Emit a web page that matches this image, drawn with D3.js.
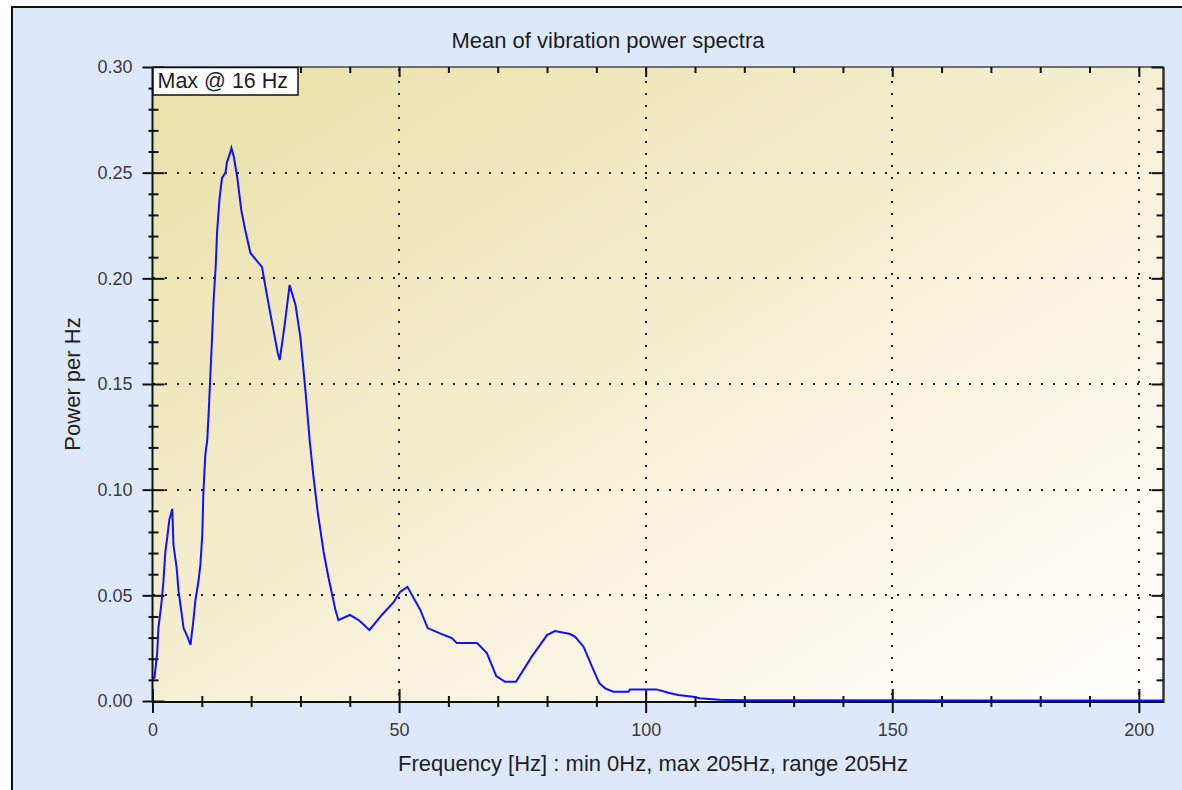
<!DOCTYPE html>
<html>
<head>
<meta charset="utf-8">
<script src="https://cdn.jsdelivr.net/npm/d3@7"></script>
<style>
  body { margin: 0; background: #fff; }
  text { font-family: "Liberation Sans", Arial, sans-serif; }
</style>
</head>
<body>
<script>
// spectrum
var freq = [0, 0.4, 0.95, 1.2, 1.8, 2.2, 2.6, 3.0, 3.4, 4.0, 4.25, 4.9, 5.3, 5.9, 6.3, 7.1, 7.7,
  8.3, 8.7, 9.3, 9.7, 10.1, 10.3, 10.7, 11.1, 11.4, 11.75, 12.1, 12.4, 12.8, 13.1, 13.6, 14.1,
  14.8, 15.1, 15.7, 16.0, 16.5, 17.2, 18.0, 18.8, 19.85, 21.5, 22.2, 23.2, 24.4, 25.4, 25.8,
  26.8, 27.8, 29.0, 30.0, 31.0, 31.9, 32.6, 33.5, 34.7, 35.7, 37.1, 37.7, 40.0, 41.8, 44.0,
  46.5, 48.9, 50.2, 51.7, 54.3, 55.8, 58.3, 60.7, 61.7, 65.8, 67.8, 69.7, 71.5, 73.7, 76.9,
  80.0, 81.6, 84.7, 85.7, 87.4, 89.4, 90.6, 91.8, 93.4, 96.5, 96.8, 102.2, 104.6, 106.6,
  109.6, 111, 115, 120, 140, 170, 205];
var power = [0.011, 0.011, 0.0227, 0.0345, 0.046, 0.056, 0.0705, 0.0776, 0.0856, 0.0909, 0.0738,
  0.063, 0.0516, 0.0416, 0.0345, 0.0303, 0.0265, 0.0383, 0.0478, 0.0563, 0.0643, 0.0786, 0.0975,
  0.1164, 0.1235, 0.1368, 0.155, 0.173, 0.19, 0.205, 0.222, 0.238, 0.2475, 0.250, 0.255, 0.259,
  0.2617, 0.2574, 0.2475, 0.2323, 0.2229, 0.212, 0.2073, 0.2054, 0.1921, 0.177, 0.1647, 0.1614,
  0.178, 0.1968, 0.1874, 0.1718, 0.1472, 0.1226, 0.107, 0.0894, 0.0705, 0.0582, 0.0431, 0.0383,
  0.0407, 0.0383, 0.0336, 0.0407, 0.0468, 0.0516, 0.054, 0.0431, 0.0345, 0.032, 0.0298, 0.0274,
  0.0274, 0.0227, 0.0118, 0.0091, 0.0091, 0.021, 0.0312, 0.0331, 0.0317, 0.0304, 0.0257, 0.0147,
  0.0084, 0.006, 0.0044, 0.0044, 0.0055, 0.0055, 0.0039, 0.0028, 0.002, 0.0013, 0.0006, 0.0003,
  0.0003, 0.0002, 0.0002];

var xTicks = [0, 50, 100, 150, 200];
var yTicks = [0, 0.05, 0.10, 0.15, 0.20, 0.25, 0.30];
var title = "Mean of vibration power spectra";
var xTitle = "Frequency [Hz] : min 0Hz, max 205Hz, range 205Hz";
var yTitle = "Power per Hz";
var maxLabel = "Max @ 16 Hz";

var plotLeft = 152.5, plotRight = 1163.5, plotTop = 67, plotBottom = 701;

var svg = d3.select("body").append("svg")
    .attr("width", 1182)
    .attr("height", 790);

var defs = svg.append("defs");
var grad = defs.append("linearGradient")
    .attr("id", "plotbg")
    .attr("x1", 0).attr("y1", 0).attr("x2", 1).attr("y2", 1);
grad.append("stop").attr("offset", "0%").attr("stop-color", "#e9e0a6");
grad.append("stop").attr("offset", "55%").attr("stop-color", "#f6f1d8");
grad.append("stop").attr("offset", "100%").attr("stop-color", "#ffffff");

// window frame
svg.append("rect")
    .attr("x", 12).attr("y", 7)
    .attr("width", 1200).attr("height", 800)
    .attr("fill", "#dde9fb")
    .attr("stroke", "#111")
    .attr("stroke-width", 2);

var x = d3.scaleLinear().domain([0, 205]).range([plotLeft, plotRight]);
var y = d3.scaleLinear().domain([0, 0.3]).range([plotBottom, plotTop]);

svg.append("rect")
    .attr("x", plotLeft).attr("y", plotTop)
    .attr("width", plotRight - plotLeft).attr("height", plotBottom - plotTop)
    .attr("fill", "url(#plotbg)");

// dotted grid
var grid = svg.append("g")
    .attr("stroke", "#222")
    .attr("stroke-width", 2)
    .attr("stroke-dasharray", "2,10");

grid.selectAll("line.v")
    .data(xTicks.slice(1))
    .enter().append("line")
    .attr("class", "v")
    .attr("x1", function(d) { return Math.round(x(d)); })
    .attr("x2", function(d) { return Math.round(x(d)); })
    .attr("y1", plotTop + 2).attr("y2", plotBottom);

grid.selectAll("line.h")
    .data(yTicks.slice(1, -1))
    .enter().append("line")
    .attr("class", "h")
    .attr("y1", function(d) { return Math.round(y(d)); })
    .attr("y2", function(d) { return Math.round(y(d)); })
    .attr("x1", plotLeft + 0.5).attr("x2", plotRight);

// frame of the plot
svg.append("line")
    .attr("x1", plotLeft).attr("x2", plotRight).attr("y1", plotTop).attr("y2", plotTop)
    .attr("stroke", "#444").attr("stroke-width", 1.5);
svg.append("line")
    .attr("x1", plotRight).attr("x2", plotRight).attr("y1", plotTop).attr("y2", plotBottom)
    .attr("stroke", "#333").attr("stroke-width", 2.5);

var xMinor = d3.range(0, 206, 10).filter(function(d) { return xTicks.indexOf(d) < 0; });
var yMinor = d3.range(1, 30).filter(function(d) { return d % 5 !== 0; })
    .map(function(d) { return d / 100; });

function tickGroup(axis, tx, ty) {
  var g = svg.append("g")
      .attr("transform", "translate(" + tx + "," + ty + ")")
      .call(axis);
  g.select(".domain").remove();
  g.selectAll(".tick line").attr("stroke", "#111").attr("stroke-width", 2);
  return g;
}

// bottom axis
tickGroup(d3.axisBottom(x).tickValues(xTicks).tickSize(12).tickFormat(""), 0, plotBottom);
tickGroup(d3.axisTop(x).tickValues(xTicks).tickSize(12).tickFormat(""), 0, plotBottom);
tickGroup(d3.axisBottom(x).tickValues(xMinor).tickSize(6).tickFormat(""), 0, plotBottom);
tickGroup(d3.axisTop(x).tickValues(xMinor).tickSize(5).tickFormat(""), 0, plotBottom);
// top axis, inward
tickGroup(d3.axisBottom(x).tickValues(xTicks).tickSize(10).tickFormat(""), 0, plotTop);
tickGroup(d3.axisBottom(x).tickValues(xMinor).tickSize(6).tickFormat(""), 0, plotTop);

// left axis
tickGroup(d3.axisLeft(y).tickValues(yTicks).tickSize(10).tickFormat(""), plotLeft, 0);
tickGroup(d3.axisRight(y).tickValues(yTicks).tickSize(12).tickFormat(""), plotLeft, 0);
tickGroup(d3.axisLeft(y).tickValues(yMinor).tickSize(4).tickFormat(""), plotLeft, 0);
tickGroup(d3.axisRight(y).tickValues(yMinor).tickSize(6).tickFormat(""), plotLeft, 0);
// right axis, inward
tickGroup(d3.axisLeft(y).tickValues(yTicks).tickSize(12).tickFormat(""), plotRight, 0);
tickGroup(d3.axisLeft(y).tickValues(yMinor).tickSize(7).tickFormat(""), plotRight, 0);

// tick labels
var xl = svg.append("g")
    .attr("transform", "translate(0," + plotBottom + ")")
    .call(d3.axisBottom(x).tickValues(xTicks).tickSize(0).tickPadding(22).tickFormat(d3.format("d")));
xl.select(".domain").remove();
xl.selectAll("text")
    .attr("font-family", "Liberation Sans, Arial, sans-serif")
    .attr("font-size", 18).attr("fill", "#3a3a3a");

var yl = svg.append("g")
    .attr("transform", "translate(" + plotLeft + ",0)")
    .call(d3.axisLeft(y).tickValues(yTicks).tickSize(0).tickPadding(20).tickFormat(d3.format(".2f")));
yl.select(".domain").remove();
yl.selectAll("text")
    .attr("font-family", "Liberation Sans, Arial, sans-serif")
    .attr("font-size", 18).attr("fill", "#3a3a3a");

// spectrum line
var line = d3.line()
    .x(function(d, i) { return x(freq[i]); })
    .y(function(d) { return y(d); });

svg.append("path")
    .datum(power)
    .attr("d", line)
    .attr("fill", "none")
    .attr("stroke", "#1010fa")
    .attr("stroke-width", 2);

// axis lines
svg.append("line")
    .attr("x1", plotLeft).attr("x2", plotLeft).attr("y1", plotTop).attr("y2", plotBottom + 1)
    .attr("stroke", "#111").attr("stroke-width", 2);
svg.append("line")
    .attr("x1", plotLeft - 1).attr("x2", plotRight + 1).attr("y1", plotBottom + 1).attr("y2", plotBottom + 1)
    .attr("stroke", "#111").attr("stroke-width", 2);

// max label box
svg.append("rect")
    .attr("x", plotLeft + 0.5).attr("y", plotTop + 0.5)
    .attr("width", 145).attr("height", 27.5)
    .attr("fill", "#fff")
    .attr("stroke", "#111").attr("stroke-width", 1.5);
svg.append("text")
    .attr("x", plotLeft + 5).attr("y", plotTop + 21)
    .attr("font-size", 21.5).attr("fill", "#1e1e1e")
    .text(maxLabel);

// titles
svg.append("text")
    .attr("x", 608).attr("y", 48)
    .attr("text-anchor", "middle")
    .attr("font-size", 22).attr("fill", "#1e1e1e")
    .text(title);

svg.append("text")
    .attr("x", 653).attr("y", 771)
    .attr("text-anchor", "middle")
    .attr("font-size", 22).attr("fill", "#1e1e1e")
    .text(xTitle);

svg.append("text")
    .attr("transform", "translate(80,384) rotate(-90)")
    .attr("text-anchor", "middle")
    .attr("font-size", 22).attr("fill", "#1e1e1e")
    .text(yTitle);
</script>
</body>
</html>
